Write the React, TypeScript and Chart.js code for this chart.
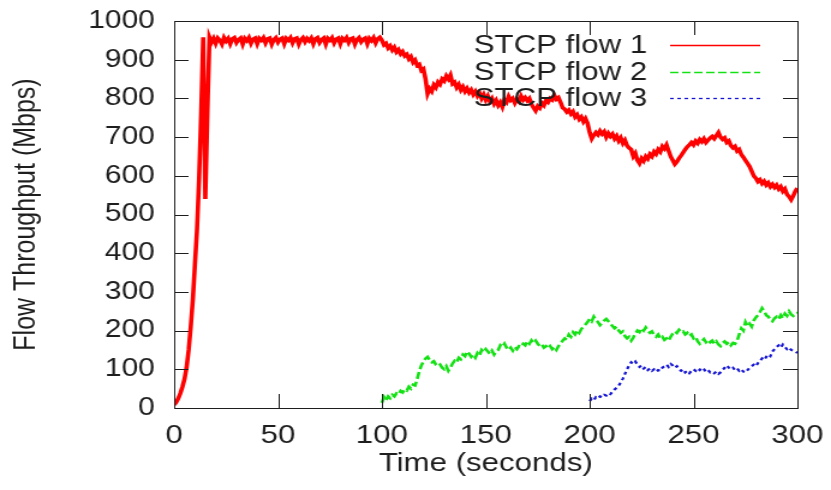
import React, { useEffect, useRef } from "react";
import { Chart, registerables } from "chart.js";

Chart.register(...registerables);

// ---- data (1 sample per second) ----
const flow1Start = 0;
const flow1Values = [
  8, 15, 25, 38, 55, 75, 105, 150, 210, 280,
  370, 460, 590, 760, 958, 540, 760, 958, 945, 955,
  942, 956, 950, 940, 957, 948, 955, 941, 954, 957,
  944, 952, 956, 940, 955, 949, 957, 942, 953, 956,
  941, 955, 950, 957, 943, 954, 956, 940, 952, 957,
  945, 953, 956, 941, 955, 950, 957, 943, 954, 956,
  940, 952, 957, 946, 955, 949, 956, 941, 954, 957,
  944, 952, 956, 940, 955, 950, 957, 943, 953, 956,
  941, 955, 950, 957, 944, 954, 956, 940, 952, 957,
  946, 953, 956, 941, 955, 949, 957, 943, 954, 958,
  950, 938, 942, 930, 936, 925, 932, 920, 926, 915,
  921, 910, 914, 902, 908, 893, 899, 885, 888, 872,
  876, 850, 812, 825, 818, 835, 828, 842, 836, 850,
  845, 858, 850, 860, 838, 842, 828, 836, 822, 830,
  818, 826, 815, 822, 810, 818, 806, 814, 800, 810,
  796, 806, 792, 800, 786, 795, 782, 790, 778, 796,
  790, 805, 795, 800, 788, 798, 792, 806, 796, 802,
  794, 800, 785, 776, 768, 780, 775, 788, 782, 795,
  790, 800, 796, 808, 798, 802, 790, 776, 772, 765,
  770, 760, 766, 752, 758, 746, 752, 740, 748, 736,
  712, 696, 705, 712, 706, 716, 708, 714, 700, 710,
  702, 708, 696, 703, 690, 698, 684, 692, 678, 672,
  668, 650, 658, 640, 632, 645, 638, 650, 644, 656,
  650, 662, 656, 668, 662, 676, 670, 680, 665, 650,
  640, 630, 636, 645, 652, 660, 668, 675, 680, 686,
  680, 690, 684, 694, 688, 696, 686, 692, 698, 702,
  696, 704, 712, 700, 694, 698, 686, 690, 678, 672,
  676, 664, 668, 655, 648, 640, 632, 624, 612, 600,
  594, 585, 590, 580, 586, 576, 582, 572, 578, 570,
  576, 566, 572, 560, 566, 552, 546, 538, 548, 560,
  568,
];

const flow2Start = 100;
const flow2Values = [
  13, 28, 20, 30, 25, 34, 30, 38, 35, 44,
  40, 48, 45, 55, 50, 60, 58, 75, 95, 110,
  120, 128, 132, 124, 118, 121, 112, 108, 112, 104,
  100, 108, 96, 104, 115, 122, 118, 130, 126, 138,
  134, 146, 140, 132, 138, 130, 142, 136, 150, 144,
  152, 146, 140, 148, 138, 146, 150, 162, 158, 166,
  156, 150, 156, 148, 158, 152, 160, 158, 166, 162,
  172, 166, 175, 168, 174, 166, 160, 164, 156, 160,
  154, 160, 152, 158, 150, 160, 166, 174, 180, 176,
  190, 184, 196, 190, 200, 194, 204, 210, 216, 222,
  230, 224, 236, 228, 222, 214, 220, 226, 230, 224,
  218, 212, 206, 210, 200, 194, 198, 186, 180, 184,
  174, 182, 192, 200, 196, 206, 200, 208, 200, 194,
  198, 188, 184, 190, 180, 184, 176, 180, 174, 184,
  192, 198, 194, 202, 196, 198, 190, 194, 186, 190,
  180, 184, 172, 166, 172, 178, 170, 176, 170, 174,
  166, 172, 164, 160, 168, 172, 166, 170, 162, 168,
  166, 174, 190, 206, 200, 222, 212, 218, 210, 226,
  234, 240, 248, 258, 250, 240, 236, 228, 224, 232,
  236, 230, 240, 232, 244, 238, 250, 242, 238, 244,
  246,
];

const flow3Start = 200;
const flow3Values = [
  18, 24, 20, 28, 25, 30, 28, 34, 32, 38,
  36, 42, 48, 52, 58, 66, 76, 88, 100, 110,
  118, 114, 120, 112, 106, 110, 102, 106, 98, 102,
  96, 100, 94, 98, 96, 104, 108, 112, 106, 114,
  110, 104, 108, 100, 96, 100, 92, 96, 90, 96,
  100, 96, 102, 98, 104, 100, 94, 98, 92, 94,
  90, 94, 88, 92, 98, 104, 110, 104, 100, 104,
  98, 102, 96, 100, 94, 92, 98, 104, 108, 112,
  108, 116, 122, 128, 124, 132, 138, 134, 146, 152,
  158, 162, 156, 164, 158, 152, 156, 150, 148, 146,
  142,
];

const seriesLabels = ["STCP flow 1", "STCP flow 2", "STCP flow 3"];
const xTitle = "Time (seconds)";
const yTitle = "Flow Throughput (Mbps)";
const xMin = 0;
const xMax = 300;
const xStep = 50;
const yMin = 0;
const yMax = 1000;
const yStep = 100;

// ---- layout ----
const PAGE_W = 831;
const PAGE_H = 490;
const SX = 1.2; // horizontal stretch of the whole canvas
const W = Math.floor(PAGE_W / SX);
const H = PAGE_H;
const FONT = "'Liberation Sans', Arial, Helvetica, sans-serif";
const INK = "#1e1e1e";

const toPoints = (start: number, vals: number[]) =>
  vals.map((v, i) => ({ x: start + i, y: v }));

const framePlugin = {
  id: "frame",
  afterDatasetsDraw(chart: any) {
    const { ctx, chartArea: a, scales } = chart;
    ctx.save();
    ctx.strokeStyle = INK;
    ctx.lineWidth = 1;
    ctx.beginPath();
    const yTickLen = 12;
    const xTickLen = 14;
    scales.y.ticks.forEach((t: any) => {
      if (t.value <= yMin || t.value >= yMax) return;
      const py = Math.round(scales.y.getPixelForValue(t.value)) + 0.5;
      ctx.moveTo(a.left, py);
      ctx.lineTo(a.left + yTickLen, py);
      ctx.moveTo(a.right, py);
      ctx.lineTo(a.right - yTickLen, py);
    });
    scales.x.ticks.forEach((t: any) => {
      if (t.value <= xMin || t.value >= xMax) return;
      const px = Math.round(scales.x.getPixelForValue(t.value)) + 0.5;
      ctx.moveTo(px, a.bottom);
      ctx.lineTo(px, a.bottom - xTickLen);
      ctx.moveTo(px, a.top);
      ctx.lineTo(px, a.top + xTickLen);
    });
    ctx.stroke();
    ctx.strokeRect(
      Math.round(a.left) + 0.5,
      Math.round(a.top) + 0.5,
      Math.round(a.right - a.left),
      Math.round(a.bottom - a.top)
    );

    // key (legend), gnuplot style: right-justified text, sample to the right
    const textRight = 539;
    const sampleL = 558;
    const sampleR = 633;
    const rowY = [46, 72.5, 99];
    ctx.font = `26px ${FONT}`;
    ctx.textAlign = "right";
    ctx.textBaseline = "middle";
    chart.data.datasets.forEach((ds: any, i: number) => {
      const y = rowY[i];
      ctx.fillStyle = INK;
      ctx.fillText(ds.label, textRight, y);
      ctx.save();
      ctx.strokeStyle = ds.borderColor;
      ctx.lineWidth = 1.3;
      ctx.setLineDash(ds.borderDash || []);
      ctx.beginPath();
      ctx.moveTo(sampleL, Math.round(y) - 0.5);
      ctx.lineTo(sampleR, Math.round(y) - 0.5);
      ctx.stroke();
      ctx.restore();
    });
    ctx.restore();
  },
};

export default function App() {
  const ref = useRef<HTMLCanvasElement | null>(null);

  useEffect(() => {
    if (!ref.current) return;
    const chart = new Chart(ref.current, {
      type: "line",
      data: {
        datasets: [
          {
            label: seriesLabels[0],
            data: toPoints(flow1Start, flow1Values),
            borderColor: "rgb(255,0,0)",
            borderWidth: 3.6,
            pointRadius: 0,
            tension: 0,
          },
          {
            label: seriesLabels[1],
            data: toPoints(flow2Start, flow2Values),
            borderColor: "rgb(20,225,20)",
            borderWidth: 2.6,
            borderDash: [7, 3],
            pointRadius: 0,
            tension: 0,
          },
          {
            label: seriesLabels[2],
            data: toPoints(flow3Start, flow3Values),
            borderColor: "rgb(20,20,210)",
            borderWidth: 2.2,
            borderDash: [3, 3],
            pointRadius: 0,
            tension: 0,
          },
        ],
      },
      options: {
        responsive: false,
        animation: false,
        events: [],
        layout: { padding: { top: 21, right: 28, left: 0, bottom: 0 } },
        plugins: {
          legend: { display: false },
          tooltip: { enabled: false },
        },
        scales: {
          x: {
            type: "linear",
            min: xMin,
            max: xMax,
            grid: { display: false, drawTicks: false },
            border: { display: false },
            ticks: {
              stepSize: xStep,
              padding: 12,
              maxRotation: 0,
              color: INK,
              font: { family: FONT, size: 26 },
              callback: (v: any) => String(v),
            },
            title: {
              display: true,
              text: xTitle,
              color: INK,
              font: { family: FONT, size: 26 },
              padding: { top: 11, bottom: 11 },
            },
            afterFit: (s: any) => {
              s.height = 82;
              s.paddingLeft = 0;
              s.paddingRight = 0;
            },
          },
          y: {
            type: "linear",
            min: yMin,
            max: yMax,
            grid: { display: false, drawTicks: false },
            border: { display: false },
            ticks: {
              stepSize: yStep,
              padding: 16,
              color: INK,
              font: { family: FONT, size: 25 },
              callback: (v: any) => String(v),
            },
            title: {
              display: true,
              text: yTitle,
              color: INK,
              font: { family: FONT, size: 25 },
              padding: { top: 7, bottom: 7 },
            },
            afterFit: (s: any) => {
              s.width = 145;
              s.paddingTop = 0;
              s.paddingBottom = 0;
            },
          },
        },
      },
      plugins: [framePlugin],
    });
    return () => chart.destroy();
  }, []);

  return (
    <div style={{ position: "fixed", left: 0, top: 0, width: PAGE_W, height: PAGE_H, background: "#fff" }}>
      <canvas
        ref={ref}
        width={W}
        height={H}
        style={{ width: `${PAGE_W}px`, height: `${PAGE_H}px`, display: "block" }}
      />
    </div>
  );
}
